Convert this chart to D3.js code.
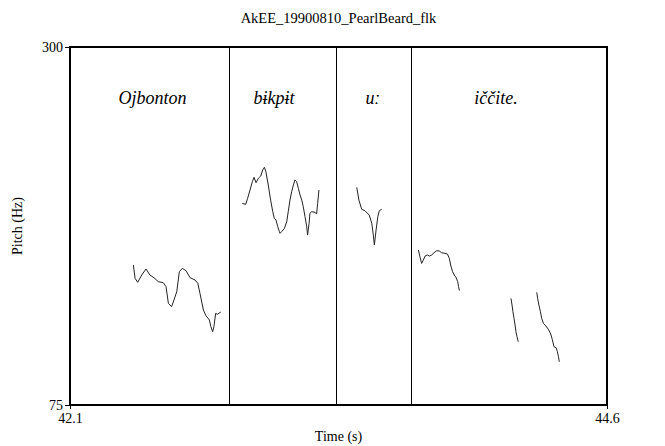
<!DOCTYPE html>
<html>
<head>
<meta charset="utf-8">
<script src="https://cdn.jsdelivr.net/npm/d3@7"></script>
<style>
	body { margin:0; background:#fff; }
	text { font-family:"Liberation Serif", "Times New Roman", serif; fill:#000; }
	.word { font-family:"Liberation Serif", "DejaVu Serif", serif; font-style:italic; }
</style>
</head>
<body>
<script>
// data //{{{
var title="AkEE_19900810_PearlBeard_flk";
var xDomain=[42.1, 44.6];
var yDomain=[75, 300];
var xTicks=[42.1, 44.6];
var yTicks=[75, 300];
var boundaries=[42.841, 43.341, 43.689]; // interval tier boundaries (s)
var words=["Ojbonton", "bɨkpɨt", "uː", "iččite."];
var wordTimes=[42.484, 43.050, 43.508, 44.083];

// pitch pieces [time s, f0 Hz]
var pitchOjbonton=[[42.395,163.0],[42.403,154.6],[42.415,152.1],[42.434,156.7],[42.454,160.5],[42.472,156.7],[42.491,155.0],[42.511,152.5],[42.534,151.9],[42.547,149.4],[42.558,138.9],[42.573,136.8],[42.584,141.0],[42.597,146.2],[42.609,158.8],[42.623,160.9],[42.640,159.4],[42.659,155.0],[42.682,153.6],[42.695,151.5],[42.705,145.2],[42.721,134.7],[42.733,131.1],[42.749,128.4],[42.756,124.2],[42.764,121.1],[42.770,124.2],[42.778,132.6],[42.786,132.0],[42.802,133.4]];
var pitchBikpit=[[42.902,201.7],[42.918,201.1],[42.927,204.9],[42.938,210.1],[42.949,215.4],[42.957,218.1],[42.966,214.7],[42.977,217.5],[42.988,218.9],[42.997,222.7],[43.005,224.4],[43.012,221.6],[43.023,213.3],[43.034,203.8],[43.044,196.5],[43.051,192.3],[43.059,191.3],[43.067,187.1],[43.075,183.9],[43.078,182.9],[43.085,183.9],[43.098,186.0],[43.109,190.2],[43.116,196.5],[43.124,203.8],[43.132,209.1],[43.140,213.3],[43.147,216.4],[43.155,215.4],[43.163,211.2],[43.171,207.0],[43.179,203.8],[43.186,199.6],[43.194,193.4],[43.202,187.1],[43.206,181.8],[43.213,189.2],[43.217,195.5],[43.225,196.5],[43.241,196.1],[43.248,195.0],[43.253,201.7],[43.259,210.1]];
var pitchU=[[43.435,211.8],[43.445,203.8],[43.458,198.0],[43.473,197.1],[43.493,194.4],[43.505,189.2],[43.512,181.8],[43.517,175.6],[43.525,185.0],[43.533,193.3],[43.540,197.1],[43.551,198.0]];
var pitchIcc1=[[43.722,172.4],[43.729,168.2],[43.737,164.0],[43.745,166.1],[43.753,168.6],[43.764,169.3],[43.773,168.6],[43.784,169.3],[43.795,170.7],[43.807,172.0],[43.819,171.8],[43.830,170.7],[43.846,170.3],[43.857,169.9],[43.866,167.2],[43.872,163.0],[43.881,158.8],[43.889,156.7],[43.897,155.2],[43.905,152.5],[43.909,149.4],[43.913,146.9]];
var pitchIcc2=[[44.153,142.0],[44.158,137.8],[44.162,133.7],[44.167,129.5],[44.172,125.3],[44.176,121.1],[44.181,117.9],[44.187,114.8]];
var pitchIcc3=[[44.273,145.8],[44.277,142.0],[44.283,137.8],[44.290,133.7],[44.296,129.5],[44.304,126.3],[44.315,124.7],[44.327,122.6],[44.338,119.6],[44.345,116.3],[44.353,111.7],[44.363,111.0],[44.369,108.5],[44.374,105.4],[44.378,102.2]];
var pieces=[pitchOjbonton, pitchBikpit, pitchU, pitchIcc1, pitchIcc2, pitchIcc3];
//}}}
	var canvas=[665, 446];
	var m={left:70, right:58, top:47, bottom:41};
	var svg=d3.select('body').append('svg').attr("width", canvas[0]).attr("height", canvas[1]);

	var x=d3.scaleLinear().domain(xDomain).range([m.left, canvas[0]-m.right]);
	var y=d3.scaleLinear().domain(yDomain).range([canvas[1]-m.bottom, m.top]);

// frame and boundaries//{{{
	svg.append("rect")
		.attr("x", x(xDomain[0]))
		.attr("y", y(yDomain[1]))
		.attr("width", x(xDomain[1])-x(xDomain[0]))
		.attr("height", y(yDomain[0])-y(yDomain[1]))
		.attr("fill", "none")
		.attr("stroke", "#000")
		.attr("stroke-width", 1.2)
		.attr("shape-rendering", "crispEdges");

	svg.selectAll(".bound").data(boundaries).enter().append("line")
		.attr("class", "bound")
		.attr("x1", d => x(d)).attr("x2", d => x(d))
		.attr("y1", y(yDomain[1])).attr("y2", y(yDomain[0]))
		.attr("stroke", "#000")
		.attr("stroke-width", 1)
		.attr("shape-rendering", "crispEdges");
//}}}
// axes//{{{
	var yAxis=d3.axisLeft(y).tickValues(yTicks).tickSize(5).tickPadding(2).tickFormat(d3.format("d"));
	var gY=svg.append("g").attr("transform", "translate(" + m.left + ",0)").call(yAxis);
	var xAxis=d3.axisBottom(x).tickValues(xTicks).tickSize(4).tickPadding(4).tickFormat(d3.format(".1f"));
	var gX=svg.append("g").attr("transform", "translate(0," + (canvas[1]-m.bottom) + ")").call(xAxis);
	[gX, gY].forEach(function(g) {
		g.select(".domain").remove();
		g.selectAll("line").attr("stroke", "#000");
		g.selectAll("text").attr("font-family", "Liberation Serif").attr("font-size", 14).attr("fill", "#000");
	});
//}}}
// pitch//{{{
	var line=d3.line().x(d => x(d[0])).y(d => y(d[1]));
	svg.selectAll(".pitch").data(pieces).enter().append("path")
		.attr("class", "pitch")
		.attr("d", line)
		.attr("fill", "none")
		.attr("stroke", "#222")
		.attr("stroke-width", 1);
//}}}
// texts//{{{
	svg.selectAll(".word").data(words).enter().append("text")
		.attr("class", "word")
		.attr("x", (d, i) => x(wordTimes[i]))
		.attr("y", 104)
		.attr("text-anchor", "middle")
		.attr("font-size", 18)
		.text(d => d);

	svg.append("text")
		.attr("x", (x(xDomain[0])+x(xDomain[1]))/2)
		.attr("y", 23)
		.attr("text-anchor", "middle")
		.attr("font-size", 14.5)
		.text(title);

	svg.append("text")
		.attr("x", (x(xDomain[0])+x(xDomain[1]))/2)
		.attr("y", 441)
		.attr("text-anchor", "middle")
		.attr("font-size", 14)
		.text("Time (s)");

	svg.append("text")
		.attr("transform", "translate(22," + (y(yDomain[0])+y(yDomain[1]))/2 + ") rotate(-90)")
		.attr("text-anchor", "middle")
		.attr("font-size", 14)
		.text("Pitch (Hz)");
//}}}
</script>
</body>
</html>
